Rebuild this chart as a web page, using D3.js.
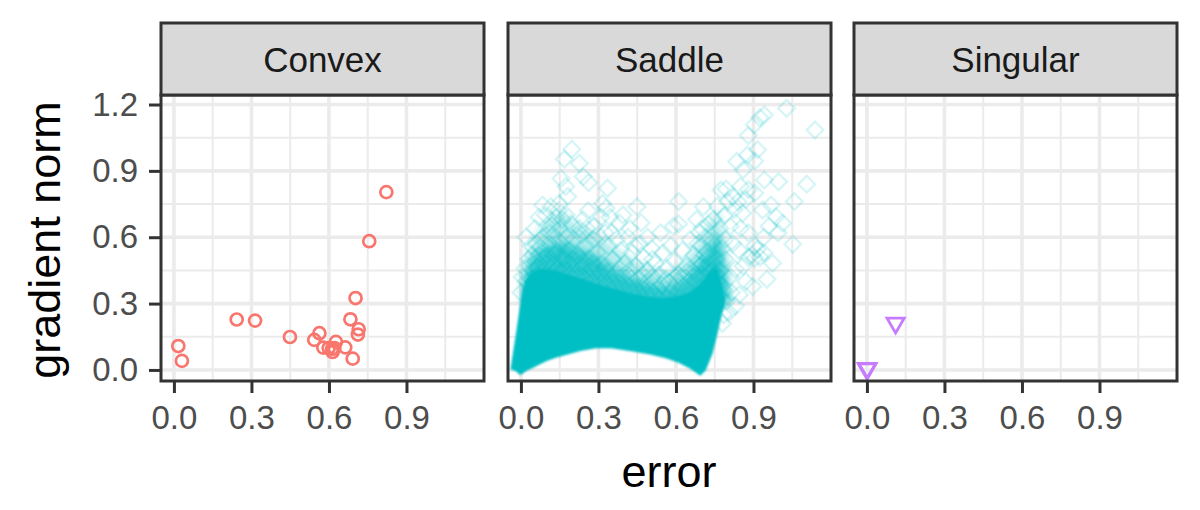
<!DOCTYPE html>
<html><head><meta charset="utf-8">
<script src="https://cdnjs.cloudflare.com/ajax/libs/d3/7.8.5/d3.min.js"></script>
<style>html,body{margin:0;padding:0;background:#fff}svg{display:block}text{font-family:"Liberation Sans",Arial,sans-serif}</style>
</head><body><svg id="c" width="1200" height="510"></svg>
<script>
const panelNames = ["Convex", "Saddle", "Singular"];
const xTicks = [0, 0.3, 0.6, 0.9];
const xMinor = [0.15, 0.45, 0.75, 1.05];
const yTicks = [0, 0.3, 0.6, 0.9, 1.2];
const yMinor = [0.15, 0.45, 0.75, 1.05];
const convexPoints = [[0.017,0.108],[0.031,0.041],[0.243,0.228],[0.314,0.223],[0.449,0.149],[0.543,0.136],[0.563,0.166],[0.578,0.101],[0.599,0.099],[0.612,0.095],[0.614,0.081],[0.627,0.127],[0.621,0.099],[0.663,0.102],[0.692,0.051],[0.683,0.229],[0.703,0.325],[0.715,0.184],[0.712,0.160],[0.822,0.804],[0.756,0.582]];
const singularPoints = [[0,0],[0.001,0.002],[0.002,0.001],[0.111,0.207]];
// Saturated part of the Saddle cloud: individual markers cannot be read there, so its outline is read off the picture.
const coreX = [-0.040,-0.019,-0.005,0.006,0.020,0.040,0.070,0.100,0.135,0.174,0.230,0.290,0.350,0.432,0.500,0.561,0.610,0.652,0.675,0.694,0.715,0.742,0.760,0.775,0.790];
const coreLow = [0.003,-0.006,-0.022,-0.018,-0.005,0.005,0.023,0.040,0.055,0.068,0.086,0.098,0.098,0.083,0.070,0.053,0.032,0.008,-0.010,-0.026,-0.002,0.075,0.160,0.240,0.300];
const coreHigh = [0.006,0.166,0.280,0.360,0.410,0.440,0.455,0.455,0.450,0.435,0.415,0.390,0.370,0.345,0.330,0.325,0.335,0.350,0.370,0.390,0.420,0.460,0.460,0.400,0.320];
// Thinner parts of the cloud above the saturated zone.
const hazeX = [0.006,0.030,0.070,0.120,0.170,0.220,0.270,0.320,0.370,0.420,0.470,0.520,0.570,0.620,0.660,0.700,0.735,0.765,0.785,0.805];
const hazeLow = [0.30,0.30,0.30,0.30,0.30,0.30,0.30,0.30,0.28,0.26,0.25,0.25,0.25,0.26,0.28,0.30,0.30,0.30,0.30,0.30];
const hazeMid = [0.37,0.48,0.54,0.57,0.58,0.55,0.53,0.49,0.45,0.42,0.40,0.38,0.37,0.39,0.44,0.50,0.57,0.62,0.52,0.36];
const hazeHigh = [0.42,0.55,0.64,0.70,0.71,0.65,0.63,0.59,0.55,0.51,0.48,0.45,0.44,0.48,0.53,0.60,0.68,0.73,0.60,0.42];
const saddlePoints = [
[0.197,0.998],[0.168,0.952],[0.226,0.934],[0.241,0.874],[0.262,0.847],[0.335,0.821],[0.155,0.866],[0.174,0.829],[0.084,0.746],[0.116,0.738],[0.148,0.753],[0.181,0.784],[0.316,0.753],[0.329,0.731],[0.449,0.738],[0.610,0.761],[0.706,0.738],[0.794,0.818],[0.835,0.942],[0.877,0.972],[0.903,1.108],[0.942,1.153],[1.028,1.183],[1.138,1.085],[0.916,0.995],[0.997,0.851],[0.942,0.859],[1.106,0.839],[1.058,0.761],[0.968,0.746],[1.052,0.568],[0.952,0.410],[0.974,0.482],[0.897,0.377],[1.013,0.663],[0.987,0.693],[0.935,0.723],[0.858,0.708],[0.819,0.784],[0.774,0.814],
[0.925,1.140],[0.880,1.060],[0.905,0.945],[0.860,0.905],[0.850,0.830],[0.880,0.815],[0.905,0.800],[0.825,0.725],[0.790,0.700],[0.800,0.760],[0.840,0.760],[0.870,0.770],[0.760,0.740],[0.745,0.680],[0.770,0.640],[0.810,0.650],[0.850,0.640],[0.880,0.620],[0.905,0.560],[0.925,0.510],[0.905,0.505],[0.895,0.520],[0.915,0.545],[0.880,0.510],[0.860,0.470],[0.830,0.455],[0.845,0.540],[0.820,0.570],[0.790,0.590],[0.940,0.600],[0.960,0.650],[0.995,0.620],[0.940,0.530],[0.870,0.400],[0.845,0.340],[0.830,0.290],[0.815,0.350],[0.810,0.420],[0.790,0.500],
[0.020,0.600],[0.040,0.560],[0.055,0.640],[0.070,0.690],[0.095,0.700],[0.120,0.655],[0.135,0.690],[0.150,0.640],[0.175,0.700],[0.195,0.660],[0.240,0.680],[0.260,0.720],[0.285,0.650],[0.310,0.690],[0.345,0.690],[0.380,0.665],[0.395,0.700],[0.420,0.640],[0.465,0.665],[0.490,0.600],[0.540,0.620],[0.590,0.650],[0.610,0.660],[0.680,0.680],[0.700,0.640],[0.725,0.660],
[0.030,0.500],[0.045,0.520],[0.060,0.490],[0.075,0.555],[0.085,0.600],[0.100,0.520],[0.110,0.570],[0.125,0.610],[0.135,0.535],[0.150,0.580],[0.165,0.500],[0.175,0.600],[0.190,0.540],[0.205,0.590],[0.220,0.520],[0.235,0.610],[0.250,0.560],[0.265,0.505],[0.280,0.590],[0.295,0.530],[0.310,0.480],[0.325,0.620],[0.340,0.560],[0.355,0.500],[0.370,0.590],[0.385,0.540],[0.400,0.480],[0.415,0.600],[0.430,0.530],[0.445,0.470],[0.460,0.570],[0.475,0.510],[0.490,0.450],[0.505,0.550],[0.520,0.480],[0.535,0.430],[0.550,0.530],[0.565,0.460],[0.580,0.560],[0.595,0.490],[0.610,0.430],[0.625,0.540],[0.640,0.470],[0.655,0.590],[0.670,0.520],[0.685,0.570],[0.700,0.480],[0.715,0.600],[0.725,0.530],[0.740,0.580],[0.755,0.500],[0.770,0.450],[0.780,0.550],
[0.005,0.420],[0.015,0.460],[0.025,0.430],[0.035,0.470],[0.050,0.445],[0.065,0.465],[0.080,0.440],[0.095,0.480],[0.110,0.450],[0.125,0.490],[0.140,0.460],[0.155,0.495],[0.170,0.455],[0.185,0.480],[0.200,0.445],[0.215,0.470],[0.230,0.430],[0.245,0.465],[0.260,0.425],[0.275,0.455],[0.290,0.415],[0.305,0.440],[0.320,0.405],[0.335,0.445],[0.350,0.400],[0.365,0.430],[0.380,0.395],[0.395,0.425],[0.410,0.385],[0.425,0.415],[0.440,0.375],[0.455,0.410],[0.470,0.370],[0.485,0.395],[0.500,0.365],[0.515,0.400],[0.530,0.360],[0.545,0.385],[0.560,0.360],[0.575,0.395],[0.590,0.370],[0.605,0.400],[0.620,0.385],[0.635,0.420],[0.650,0.400],[0.665,0.445],[0.680,0.430],[0.695,0.470],[0.710,0.455],[0.725,0.480],[0.740,0.450],[0.755,0.430],[0.770,0.390],[0.785,0.360],[0.795,0.310],[0.805,0.260],
[0.000,0.350],[0.020,0.400],[0.040,0.410],[0.070,0.420],[0.100,0.435],[0.130,0.440],[0.160,0.445],[0.190,0.430],[0.220,0.420],[0.250,0.410],[0.280,0.395],[0.310,0.390],[0.340,0.375],[0.370,0.370],[0.400,0.360],[0.430,0.350],[0.460,0.345],[0.490,0.340],[0.520,0.335],[0.550,0.335],[0.580,0.345],[0.610,0.355],[0.640,0.375],[0.670,0.400],[0.700,0.430],[0.730,0.445],[0.760,0.400],[0.780,0.320],[0.785,0.250],[0.780,0.210],
[0.160,0.510],[0.130,0.520],[0.090,0.510],[0.200,0.500],[0.240,0.490],[0.280,0.480],[0.330,0.470],[0.380,0.460],[0.420,0.450],[0.470,0.430],[0.510,0.420],[0.560,0.410],[0.600,0.420],[0.640,0.440],[0.680,0.480],[0.710,0.520],[0.730,0.510],[0.070,0.520],[0.060,0.570],[0.110,0.620],[0.145,0.720],[0.160,0.680],[0.225,0.640],[0.255,0.640],[0.300,0.610],[0.350,0.620],[0.440,0.560],[0.510,0.500],[0.700,0.560],[0.690,0.620]
];
const xLabel = "error", yLabel = "gradient norm";
const panelLeft = [161, 508, 854], panelWidth = 323;
const panelTop = 95, panelBottom = 381, stripTop = 23;
const ink = "#333333", labelInk = "#4d4d4d", grid = "#ebebeb";
const colors = ["#F8766D", "#00BFC4", "#C77CFF"];
const fmt = d3.format(".1f");
const svg = d3.select("#c");
const defs = svg.append("defs");
[["soft", 1], ["haze", 3.5]].forEach(([id, s]) => defs.append("filter").attr("id", id).attr("x", "-20%").attr("y", "-20%").attr("width", "140%").attr("height", "140%").append("feGaussianBlur").attr("stdDeviation", s));
const y = d3.scaleLinear().domain([-0.05, 1.243]).range([panelBottom, panelTop]);

panelNames.forEach((name, i) => {
  const left = panelLeft[i], right = left + panelWidth;
  const x = d3.scaleLinear().domain([-0.05, 1.2]).range([left, right]);
  const g = svg.append("g");
  const clipId = "clip" + i;
  svg.append("clipPath").attr("id", clipId).append("rect").attr("x", left).attr("y", panelTop).attr("width", panelWidth).attr("height", panelBottom - panelTop);
  const gridG = g.append("g").attr("clip-path", `url(#${clipId})`);
  const vline = (v, w) => gridG.append("line").attr("x1", x(v)).attr("x2", x(v)).attr("y1", panelTop).attr("y2", panelBottom).attr("stroke", grid).attr("stroke-width", w);
  const hline = (v, w) => gridG.append("line").attr("y1", y(v)).attr("y2", y(v)).attr("x1", left).attr("x2", right).attr("stroke", grid).attr("stroke-width", w);
  xMinor.forEach(v => vline(v, 2)); yMinor.forEach(v => hline(v, 2));
  xTicks.forEach(v => vline(v, 3.6)); yTicks.forEach(v => hline(v, 3.6));
  const marks = g.append("g").attr("clip-path", `url(#${clipId})`);
  if (i === 0) {
    marks.selectAll("circle").data(convexPoints).join("circle")
      .attr("cx", d => x(d[0])).attr("cy", d => y(d[1])).attr("r", 6)
      .attr("fill", "none").attr("stroke", colors[0]).attr("stroke-width", 2.7);
  } else if (i === 1) {
    const layer = (tops, op) => marks.append("path")
      .attr("d", d3.area().x(d => x(d)).y0((d, k) => y(hazeLow[k])).y1((d, k) => y(tops[k]))(hazeX))
      .attr("fill", colors[1]).attr("fill-opacity", op).attr("filter", "url(#haze)");
    layer(hazeHigh, 0.3);
    layer(hazeMid, 0.7);
    const cloud = d3.area().x(d => x(d)).y0((d, k) => y(coreLow[k])).y1((d, k) => y(coreHigh[k]));
    marks.append("path").attr("d", cloud(coreX)).attr("fill", colors[1]).attr("filter", "url(#soft)");
    const sym = d3.symbol().type(d3.symbolSquare).size(140);
    marks.selectAll("path.pt").data(saddlePoints).join("path").attr("class", "pt")
      .attr("d", sym()).attr("transform", d => `translate(${x(d[0])},${y(d[1])}) rotate(45)`)
      .attr("fill", "none").attr("stroke", colors[1]).attr("stroke-width", 2.3).attr("stroke-opacity", 0.16);
  } else {
    const tri = d3.line()([[-8.6, -6], [8.6, -6], [0, 8.8]]) + "Z";
    marks.selectAll("path").data(singularPoints).join("path")
      .attr("d", tri).attr("transform", d => `translate(${x(d[0])},${y(d[1])})`)
      .attr("fill", "none").attr("stroke", colors[2]).attr("stroke-width", 2.8);
  }
  g.append("rect").attr("x", left).attr("y", panelTop).attr("width", panelWidth).attr("height", panelBottom - panelTop).attr("fill", "none").attr("stroke", ink).attr("stroke-width", 3);
  g.append("rect").attr("x", left).attr("y", stripTop).attr("width", panelWidth).attr("height", panelTop - stripTop).attr("fill", "#d9d9d9").attr("stroke", ink).attr("stroke-width", 3);
  g.append("text").attr("x", left + panelWidth / 2).attr("y", 72).attr("text-anchor", "middle").attr("font-size", 35).attr("fill", "#1a1a1a").text(name);
  const xAxis = g.append("g").attr("transform", `translate(0,${panelBottom})`)
    .call(d3.axisBottom(x).tickValues(xTicks).tickFormat(fmt).tickSize(12).tickPadding(13));
  xAxis.select(".domain").remove();
  xAxis.selectAll("line").attr("stroke", ink).attr("stroke-width", 3);
  xAxis.selectAll("text").attr("font-size", 33).attr("fill", labelInk).attr("font-family", '"Liberation Sans",Arial,sans-serif');
  if (i === 0) {
    const yAxis = g.append("g").attr("transform", `translate(${left},0)`)
      .call(d3.axisLeft(y).tickValues(yTicks).tickFormat(fmt).tickSize(12).tickPadding(11));
    yAxis.select(".domain").remove();
    yAxis.selectAll("line").attr("stroke", ink).attr("stroke-width", 3);
    yAxis.selectAll("text").attr("font-size", 33).attr("fill", labelInk).attr("font-family", '"Liberation Sans",Arial,sans-serif');
  }
});
svg.append("text").attr("x", 669).attr("y", 487).attr("text-anchor", "middle").attr("font-size", 45).attr("fill", "#000").text(xLabel);
svg.append("text").attr("transform", "translate(60,240) rotate(-90)").attr("text-anchor", "middle").attr("font-size", 45).attr("fill", "#000").text(yLabel);
</script></body></html>
